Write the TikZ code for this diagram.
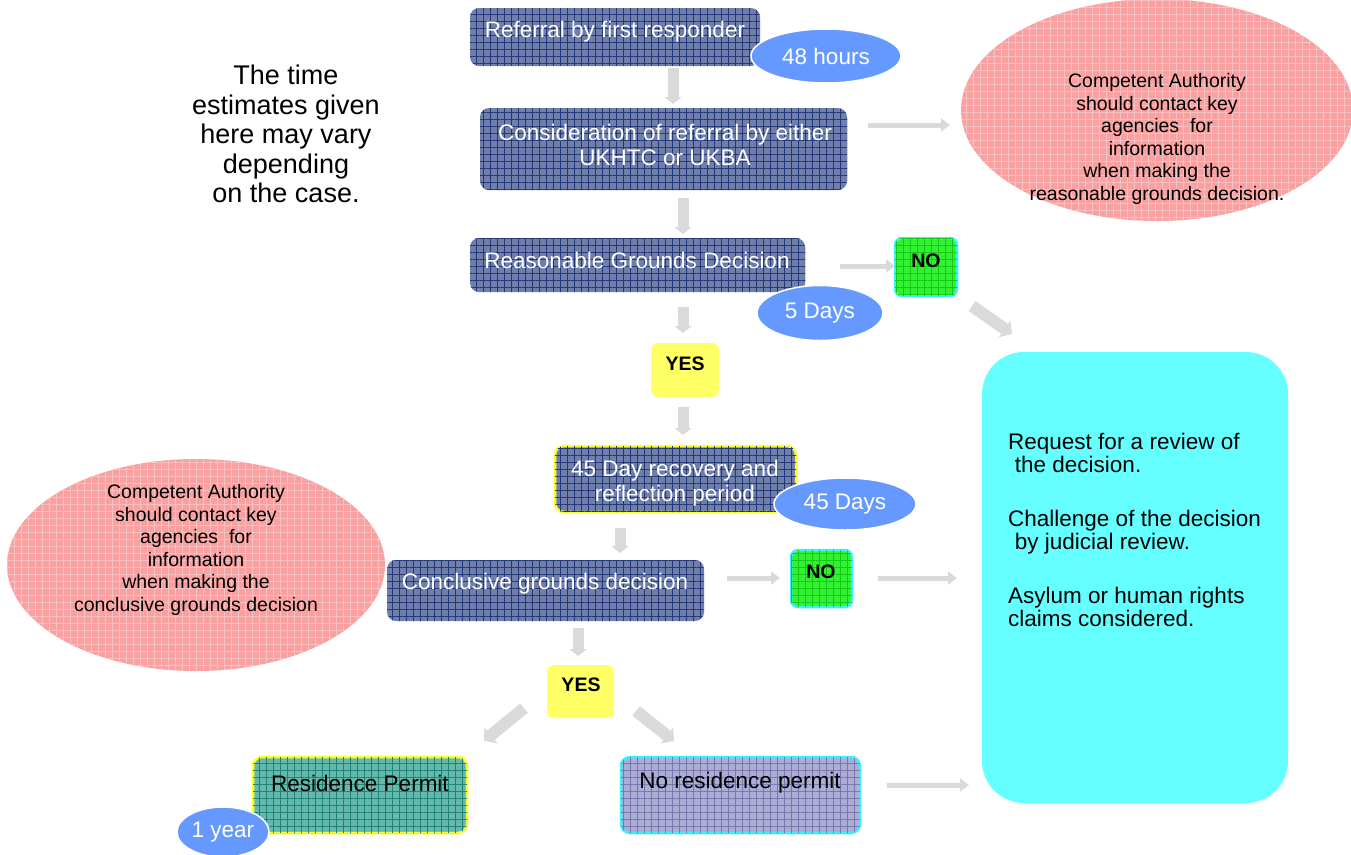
\documentclass[tikz,border=0pt]{standalone}
\usepackage{fontspec}
\setmainfont{Liberation Sans}
\usetikzlibrary{arrows.meta,shapes.geometric,patterns.meta}
\definecolor{navyfill}{RGB}{112,126,170}
\definecolor{navyline}{RGB}{35,55,125}
\definecolor{pinkfill}{RGB}{250,160,160}
\definecolor{pinkline}{RGB}{240,120,120}
\definecolor{cyanfill}{RGB}{102,255,255}
\definecolor{cyanedge}{RGB}{60,240,255}
\definecolor{yellowfill}{RGB}{255,255,102}
\definecolor{yellowedge}{RGB}{255,255,40}
\definecolor{greenfill}{RGB}{50,240,50}
\definecolor{greenline}{RGB}{20,200,20}
\definecolor{tealfill}{RGB}{100,185,172}
\definecolor{tealline}{RGB}{30,130,120}
\definecolor{lavfill}{RGB}{172,172,212}
\definecolor{lavline}{RGB}{120,120,175}
\definecolor{ellblue}{RGB}{102,153,255}
\definecolor{arrowgray}{RGB}{218,218,218}
\begin{document}
\begin{tikzpicture}[x=1pt,y=-1pt,
  box/.style={rectangle, rounded corners=9pt, inner sep=0pt},
  gridded/.style={postaction={pattern={Lines[distance=7pt,line width=0.6pt,angle=0]},pattern color=#1},
                  postaction={pattern={Lines[distance=7pt,line width=0.6pt,angle=90]},pattern color=#1}},
  navybox/.style={box, fill=navyfill, gridded=navyline},
  wtext/.style={text=white, font=\fontsize{22.5}{25.5}\selectfont, align=center, inner sep=0pt},
  btext/.style={text=black, font=\fontsize{22.5}{25.5}\selectfont, align=center, inner sep=0pt},
  ynbox/.style={box, rounded corners=7pt},
  yntext/.style={font=\bfseries\fontsize{19.5}{20}\selectfont, inner sep=0pt},
  timeell/.style={ellipse, fill=ellblue, draw=white, line width=1.5pt, inner sep=0pt, text=white, font=\fontsize{22.5}{24}\selectfont},
  pinkell/.style={ellipse, fill=pinkfill, inner sep=0pt, gridded=pinkline!45},
  ptext/.style={font=\fontsize{19.5}{22.6}\selectfont, align=center, inner sep=0pt},
  harrow/.style={draw=arrowgray, line width=5pt, -{Triangle[length=9pt,width=13pt]}},
  varrow/.style={draw=arrowgray, line width=11pt, -{Triangle[length=7pt,width=17pt]}},
  darrow/.style={draw=arrowgray, line width=12pt, -{Triangle[length=9pt,width=20pt]}}
]
\useasboundingbox (0,0) rectangle (1351,854);

% side note
\node[font=\fontsize{27}{29.5}\selectfont, align=center, inner sep=0pt] (note) at (286,134)
  {The time\\estimates given\\here may vary\\depending\\on the case.};

% pink ellipses
\node[pinkell, minimum width=392pt, minimum height=222pt] (pe1) at (1157,110) {};
\node[ptext] (pt1) at (1157,139) {Competent Authority\\should contact key\\agencies\ \ for\\information\\when making the\\reasonable grounds decision.};
\node[pinkell, minimum width=378pt, minimum height=212pt] (pe2) at (196,565) {};
\node[ptext] (pt2) at (196,550) {Competent Authority\\should contact key\\agencies\ \ for\\information\\when making the\\conclusive grounds decision};

% cyan outcome box
\node[box, rounded corners=42pt, fill=cyanfill, minimum width=306pt, minimum height=451pt] (rev) at (1135,577.5) {};
\node[anchor=north west, align=left, inner sep=0pt, font=\fontsize{22.5}{23.5}\selectfont] (revt) at (1008,432.5)
  {Request for a review of\\\hspace{0.3em}the decision.\\[30pt]Challenge of the decision\\\hspace{0.3em}by judicial review.\\[30pt]Asylum or human rights\\claims considered.};

% main flow boxes
\node[navybox, minimum width=290pt, minimum height=58pt] (b1) at (615,37) {};
\node[wtext] (t1) at (615,32) {Referral by first responder};
\node[timeell, minimum width=150pt, minimum height=54pt] (e1) at (826,56) {48 hours};

\node[navybox, minimum width=367pt, minimum height=82pt] (b2) at (663.5,149) {};
\node[wtext] (t2) at (665,145) {Consideration of referral by either\\UKHTC or UKBA};

\node[navybox, minimum width=335pt, minimum height=54pt] (b3) at (637.5,265) {};
\node[wtext] (t3) at (637,260) {Reasonable Grounds Decision};

\node[ynbox, fill=greenfill, draw=cyanedge, line width=2.5pt, gridded=greenline, minimum width=62pt, minimum height=58pt] (no1) at (926,267) {};
\node[yntext] (no1t) at (926,261) {NO};
\node[timeell, minimum width=126pt, minimum height=55pt] (e2) at (820,313) {5 Days};

\node[ynbox, fill=yellowfill, minimum width=68pt, minimum height=54pt] (y1) at (685,370) {};
\node[yntext] (y1t) at (685,364) {YES};

\node[navybox, draw=yellowedge, line width=2.5pt, minimum width=241pt, minimum height=66pt] (b4) at (675.5,479) {};
\node[wtext] (t4) at (675,483) {45 Day recovery and\\reflection period};
\node[timeell, minimum width=142pt, minimum height=52pt] (e3) at (845,504) {45 Days};

\node[navybox, minimum width=317pt, minimum height=61pt] (b5) at (545.5,590.5) {};
\node[wtext] (t5) at (545,584) {Conclusive grounds decision};

\node[ynbox, fill=greenfill, draw=cyanedge, line width=2.5pt, gridded=greenline, minimum width=61pt, minimum height=57pt] (no2) at (821.5,578.5) {};
\node[yntext] (no2t) at (821,572) {NO};

\node[ynbox, fill=yellowfill, minimum width=67pt, minimum height=53pt] (y2) at (580.5,691.5) {};
\node[yntext] (y2t) at (581,685) {YES};

\node[box, fill=tealfill, draw=yellowedge, line width=2.5pt, gridded=tealline, minimum width=214pt, minimum height=76pt] (rp) at (360,795) {};
\node[btext] (rpt) at (360,783) {Residence Permit};
\node[timeell, minimum width=92pt, minimum height=50pt] (e4) at (223,832) {1 year};

\node[box, fill=lavfill, draw=cyanedge, line width=2.5pt, gridded=lavline, minimum width=239pt, minimum height=76pt] (nrp) at (740.5,795) {};
\node[btext] (nrpt) at (740,783) {No residence permit};

% connector arrows (free-standing, as in the reference)
\coordinate (a1s) at (673,68);   \coordinate (a1e) at (673,104);
\coordinate (a2s) at (683,198);  \coordinate (a2e) at (683,234);
\coordinate (a3s) at (683,307);  \coordinate (a3e) at (683,333);
\coordinate (a4s) at (683,407);  \coordinate (a4e) at (683,435);
\coordinate (a5s) at (620,528);  \coordinate (a5e) at (620,553);
\coordinate (a6s) at (578,628);  \coordinate (a6e) at (578,656);
\coordinate (h1s) at (868,125);  \coordinate (h1e) at (950,125);
\coordinate (h2s) at (840,266);  \coordinate (h2e) at (895,266);
\coordinate (h3s) at (727,578);  \coordinate (h3e) at (780,578);
\coordinate (h4s) at (878,578);  \coordinate (h4e) at (957,578);
\coordinate (h5s) at (887,785);  \coordinate (h5e) at (969,785);
\coordinate (d1s) at (972,306);  \coordinate (d1e) at (1012,334);
\coordinate (d2s) at (524,708);  \coordinate (d2e) at (484,741);
\coordinate (d3s) at (636,711);  \coordinate (d3e) at (674,741);
\foreach \s/\e in {a1s/a1e,a2s/a2e,a3s/a3e,a4s/a4e,a5s/a5e,a6s/a6e} \draw[varrow] (\s) -- (\e);
\foreach \s/\e in {h1s/h1e,h2s/h2e,h3s/h3e,h4s/h4e,h5s/h5e} \draw[harrow] (\s) -- (\e);
\foreach \s/\e in {d1s/d1e,d2s/d2e,d3s/d3e} \draw[darrow] (\s) -- (\e);
\end{tikzpicture}
\end{document}
